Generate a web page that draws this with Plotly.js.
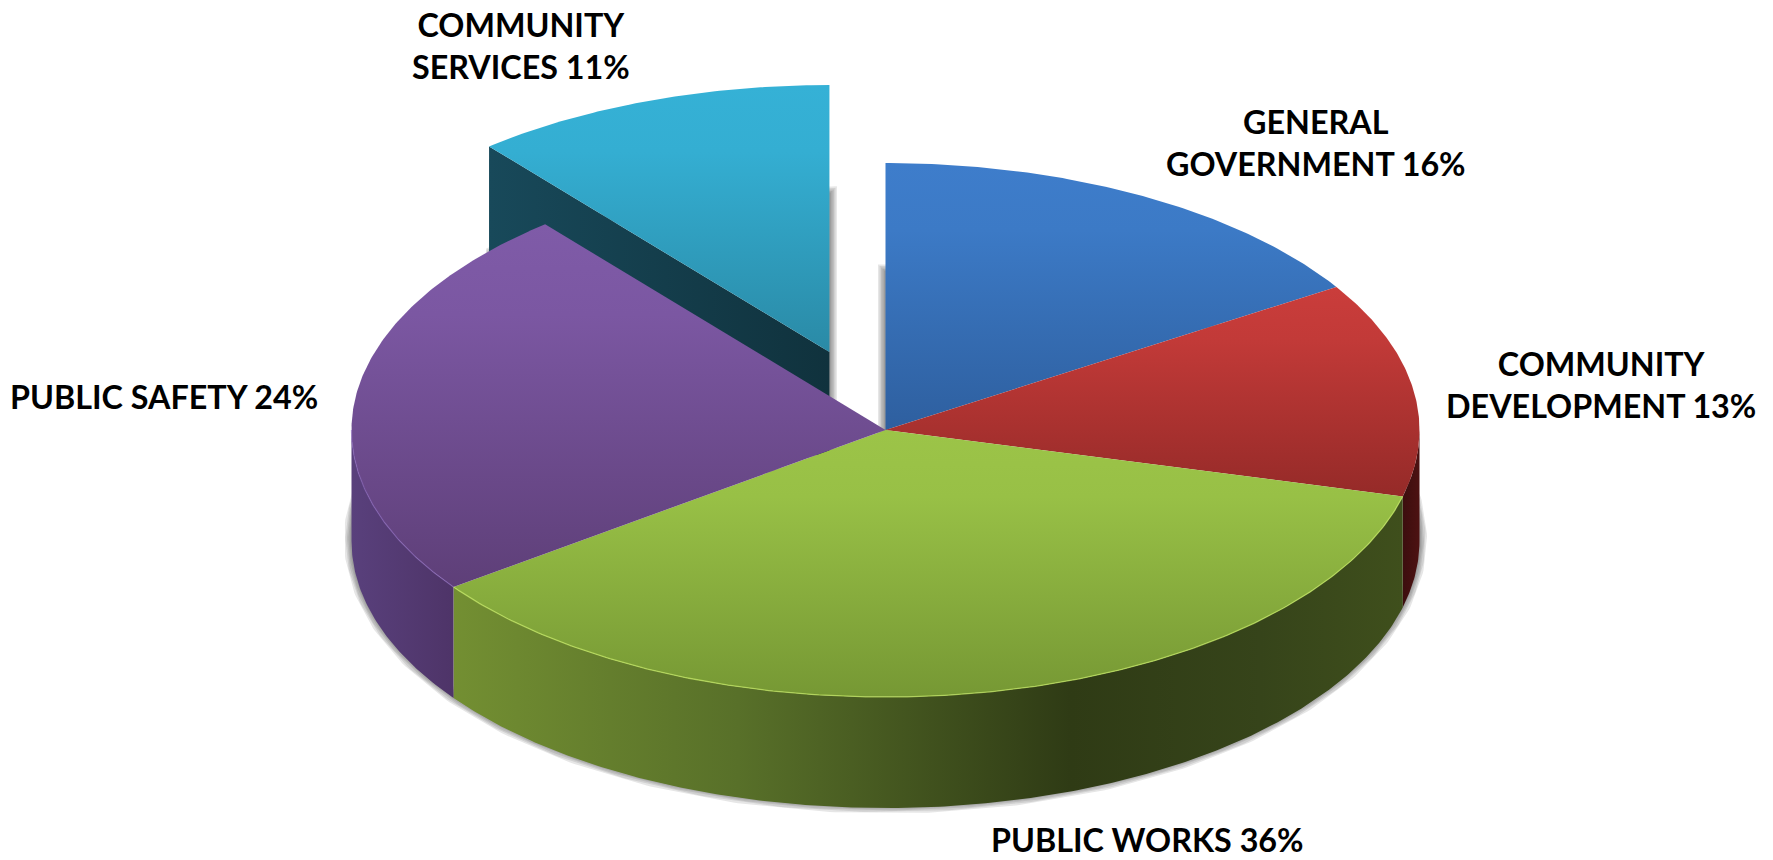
<!DOCTYPE html>
<html>
<head>
<meta charset="utf-8">
<script src="https://cdn.plot.ly/plotly-3.0.1.min.js"></script>
<style>html,body{margin:0;padding:0;background:#fff}#chart{width:1773px;height:860px}</style>
</head>
<body>
<div id="chart"></div>
<script>
// Budget shares, clockwise from twelve o'clock
const departments = ["GENERAL<br>GOVERNMENT", "COMMUNITY<br>DEVELOPMENT", "PUBLIC WORKS", "PUBLIC SAFETY", "COMMUNITY<br>SERVICES"];
const shares = [16, 13, 36, 24, 11];
const exploded = [0, 0, 0, 0, 0.31];

const topColors = [
  ["#3e7dcb", "#3c7ac6", "#2e5f9f"],
  ["#ca3d3b", "#c23a38", "#952a28"],
  ["#9cc448", "#98c046", "#769834"],
  ["#7f5ba8", "#7b57a2", "#5e3f78"],
  ["#35b1d6", "#34aed2", "#2a8aa6"]
];
const wallColors = [
  [[0, "#2b5a96"], [1, "#2b5a96"]],
  [[0, "#3c0e0e"], [1, "#4d1212"]],
  [[0, "#738f32"], [0.3, "#587029"], [0.65, "#2f3b15"], [0.85, "#36441a"], [1, "#3f4f1c"]],
  [[0, "#59407c"], [1, "#4e3468"]],
  [[0, "#18495a"], [1, "#10323d"]]
];
const labelCentres = [[1316, 142.5], [1601, 384], [1147, 839], [164, 396], [521, 45]];

// Projection of the tilted disc onto the plot's axes
const cx = 885.5, cy = 430, rx = 534, ry = 267, depth = 111;
const rad = d => d * Math.PI / 180;
const total = shares.reduce((a, b) => a + b, 0);

let running = 0;
const slices = shares.map((v, i) => {
  const a0 = running / total * 360;
  running += v;
  const a1 = running / total * 360;
  const mid = (a0 + a1) / 2;
  return {
    a0, a1,
    ox: cx + exploded[i] * rx * Math.sin(rad(mid)),
    oy: cy - exploded[i] * ry * Math.cos(rad(mid))
  };
});

function arc(s, a0, a1, dy) {
  const xs = [], ys = [];
  const n = Math.max(2, Math.ceil(Math.abs(a1 - a0) * 2));
  for (let k = 0; k <= n; k++) {
    const a = rad(a0 + (a1 - a0) * k / n);
    xs.push(s.ox + rx * Math.sin(a));
    ys.push(s.oy - ry * Math.cos(a) + dy);
  }
  return [xs, ys];
}

function wedge(s, dy) {
  const [xs, ys] = arc(s, s.a0, s.a1, dy);
  return [[s.ox, ...xs, s.ox], [s.oy + dy, ...ys, s.oy + dy]];
}

function outline(xs, ys, width) {
  return {x: xs, y: ys, mode: "lines", line: {color: "rgba(50,50,50,0.12)", width},
          hoverinfo: "skip", showlegend: false};
}

function filled(xs, ys, gradient) {
  return {x: xs, y: ys, mode: "lines", fill: "toself", fillcolor: "rgba(0,0,0,0)",
          fillgradient: gradient, line: {width: 0}, hoverinfo: "skip", showlegend: false};
}

// The y axis runs downward, so the scale is listed bottom colour first
const verticalGradient = c => ({
  type: "vertical",
  colorscale: [[0, c[2]], [0.75, c[1]], [1, c[0]]]
});
const horizontalGradient = c => ({type: "horizontal", colorscale: c});

const traces = [];
const last = slices.length - 1;
const shadowLift = -2;
const shadowWidths = [15, 12, 9, 6, 3];

// Soft contact shadow under the main cake, then under the pulled-out slice
{
  const main = slices[0];
  const [mx, my] = arc(main, 0, slices[last].a0, depth + shadowLift);
  const px = [cx, ...mx, cx], py = [cy + depth + shadowLift, ...my, cy + depth + shadowLift];
  shadowWidths.forEach(w => traces.push(outline(px, py, w)));
  const [ex, ey] = wedge(slices[last], depth + shadowLift);
  shadowWidths.forEach(w => traces.push(outline(ex, ey, w)));
}

// Pulled-out slice: its cut face, then its top
{
  const s = slices[last];
  const [ax, ay] = arc(s, s.a0, s.a0, 0);
  traces.push(filled(
    [ax[0], s.ox, s.ox, ax[0], ax[0]],
    [ay[0], s.oy, s.oy + depth, ay[0] + depth, ay[0]],
    horizontalGradient(wallColors[last])));
  const [wx, wy] = wedge(s, 0);
  traces.push(filled(wx, wy, verticalGradient(topColors[last])));
}

// Outer wall of the cake, only on the half that faces the viewer
slices.slice(0, last).forEach((s, i) => {
  const a0 = Math.max(s.a0, 90), a1 = Math.min(s.a1, 270);
  if (a1 <= a0) return;
  const [tx, ty] = arc(s, a0, a1, 0);
  const [bx, by] = arc(s, a1, a0, depth);
  traces.push(filled([...tx, ...bx, tx[0]], [...ty, ...by, ty[0]], horizontalGradient(wallColors[i])));
});

// Top faces of the cake with a faint lit rim
slices.slice(0, last).forEach((s, i) => {
  const [wx, wy] = wedge(s, 0);
  traces.push(filled(wx, wy, verticalGradient(topColors[i])));
});
[[2, "rgba(190,225,95,0.75)"], [3, "rgba(135,100,185,0.6)"]].forEach(([i, colour]) => {
  const s = slices[i];
  const a0 = Math.max(s.a0, 90), a1 = Math.min(s.a1, 270);
  const [tx, ty] = arc(s, a0, a1, 0);
  traces.push({x: tx, y: ty, mode: "lines", line: {color: colour, width: 1.3},
               hoverinfo: "skip", showlegend: false});
});

const annotations = departments.map((name, i) => ({
  x: labelCentres[i][0], y: labelCentres[i][1],
  xref: "x", yref: "y", xanchor: "center", yanchor: "middle", align: "center",
  showarrow: false,
  text: `<b>${name} ${shares[i]}%</b>`,
  font: {family: "Lato, sans-serif", size: 32.3, color: "#000"}
}));

Plotly.newPlot("chart", traces, {
  width: 1773, height: 860,
  margin: {l: 0, r: 0, t: 0, b: 0},
  paper_bgcolor: "#fff", plot_bgcolor: "#fff",
  showlegend: false,
  xaxis: {range: [0, 1773], visible: false, fixedrange: true},
  yaxis: {range: [860, 0], visible: false, fixedrange: true},
  annotations
}, {displayModeBar: false, staticPlot: true});
</script>
</body>
</html>
